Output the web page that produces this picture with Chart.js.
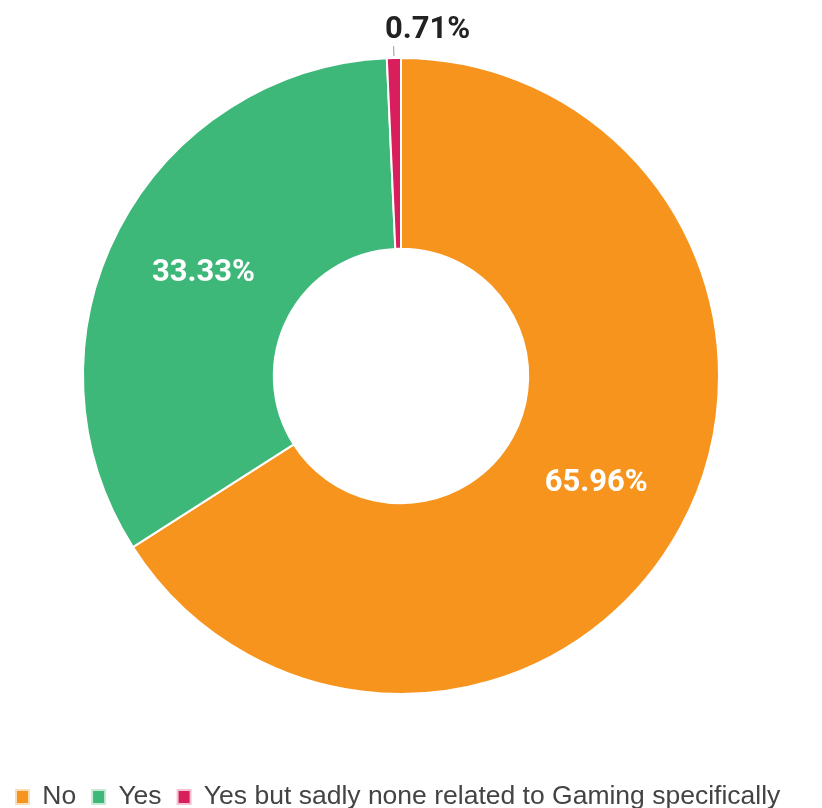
<!DOCTYPE html>
<html>
<head>
<meta charset="utf-8">
<script src="https://cdn.jsdelivr.net/npm/chart.js@4.4.1/dist/chart.umd.min.js"></script>
<style>
  html, body { margin: 0; padding: 0; background: #fff; }
  #wrap { width: 822px; height: 808px; }
</style>
</head>
<body>
<div id="wrap"><canvas id="answers"></canvas></div>
<script>
const answers = ['No', 'Yes', 'Yes but sadly none related to Gaming specifically']
const percents = [65.96, 33.33, 0.71]
const sliceColors = ['#F7941D', '#3DB878', '#D81F5C']
const boxFrames = ['#F9DDB8', '#C6EAD6', '#F3C2D2']

// percent labels on the slices, small slice gets a leader line above
const sliceLabels = {
  id: 'sliceLabels',
  afterDatasetsDraw(chart) {
    const ctx = chart.ctx
    const arcs = chart.getDatasetMeta(0).data
    ctx.save()
    ctx.font = 'bold 31px Roboto, "Liberation Sans", Arial'
    ctx.textBaseline = 'middle'
    arcs.forEach((arc, i) => {
      const p = arc.getProps(['x', 'y', 'startAngle', 'endAngle', 'innerRadius', 'outerRadius'], true)
      const mid = (p.startAngle + p.endAngle) / 2
      const txt = percents[i].toFixed(2) + '%'
      if (percents[i] > 5) {
        const r = (p.innerRadius + p.outerRadius) / 2
        ctx.fillStyle = '#FFFFFF'
        ctx.textAlign = 'center'
        ctx.fillText(txt, p.x + Math.cos(mid) * r, p.y + Math.sin(mid) * r)
      } else {
        const x0 = p.x + Math.cos(mid) * p.outerRadius
        const y0 = p.y + Math.sin(mid) * p.outerRadius
        const x1 = p.x + Math.cos(mid) * (p.outerRadius + 12)
        const y1 = p.y + Math.sin(mid) * (p.outerRadius + 12)
        ctx.strokeStyle = '#999'
        ctx.lineWidth = 1
        ctx.beginPath()
        ctx.moveTo(x0, y0 - 2)
        ctx.lineTo(x1, y1)
        ctx.stroke()
        ctx.fillStyle = '#222'
        ctx.textAlign = 'center'
        ctx.fillText(txt, x1 + 34, y1 - 16)
      }
    })
    ctx.restore()
  }
}

const donut = new Chart(document.getElementById('answers'), {
  type: 'doughnut',
  data: {
    labels: answers,
    datasets: [{
      data: percents,
      backgroundColor: sliceColors,
      borderColor: '#ffffff',
      borderWidth: 2,
      radius: 318,
      cutout: '40%'
    }]
  },
  options: {
    responsive: true,
    maintainAspectRatio: false,
    animation: false,
    layout: { padding: { top: 0, bottom: -12.25, left: 0, right: 20 } },
    plugins: {
      tooltip: { enabled: false },
      legend: {
        position: 'bottom',
        align: 'start',
        // empty title only pushes the legend row down a bit
        title: { display: true, text: '', font: { size: 10 }, padding: { top: 3.75, bottom: 0 } },
        labels: {
          boxWidth: 13,
          boxHeight: 14,
          padding: 16,
          color: '#444',
          font: { size: 26.5, family: '"Liberation Sans", Arial' },
          generateLabels(chart) {
            return answers.map((a, i) => ({
              text: a,
              fillStyle: sliceColors[i],
              strokeStyle: boxFrames[i],
              lineWidth: 2,
              fontColor: '#444',
              index: i,
              datasetIndex: 0,
              hidden: false
            }))
          }
        }
      }
    }
  },
  plugins: [sliceLabels]
})
</script>
</body>
</html>
